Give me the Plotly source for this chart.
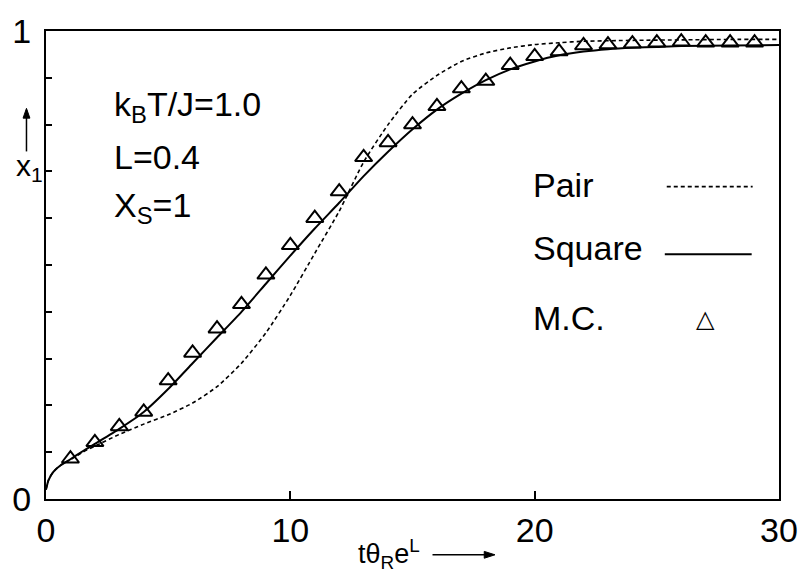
import plotly.graph_objects as go

# ---- data ----
square_x = [0, 0.1, 0.3, 0.6, 1, 1.5, 2, 3, 4, 5, 6, 7, 8, 9, 10, 11, 12, 13, 14, 15,
            16, 17, 18, 19, 20, 21, 22, 23, 24, 25, 26, 28, 30]
square_y = [0.02, 0.04, 0.058, 0.072, 0.085, 0.102, 0.118, 0.15, 0.186, 0.235, 0.29,
            0.345, 0.40, 0.46, 0.52, 0.578, 0.633, 0.69, 0.742, 0.79, 0.832, 0.866,
            0.895, 0.918, 0.935, 0.948, 0.956, 0.961, 0.964, 0.966, 0.968, 0.969, 0.97]

pair_x = [0, 0.1, 0.3, 0.6, 1, 1.5, 2, 3, 4, 5, 6, 7, 8, 9, 10, 11, 12, 13, 14, 15,
          16, 17, 18, 19, 20, 21, 22, 24, 26, 28, 30]
pair_y = [0.02, 0.04, 0.058, 0.072, 0.084, 0.1, 0.113, 0.138, 0.16, 0.18, 0.205, 0.24,
          0.29, 0.355, 0.435, 0.525, 0.615, 0.72, 0.80, 0.865, 0.905, 0.935, 0.953,
          0.964, 0.971, 0.975, 0.978, 0.98, 0.981, 0.982, 0.982]

mc_x = list(range(1, 30))
mc_y = [0.086, 0.121, 0.155, 0.186, 0.253, 0.312, 0.364, 0.416, 0.479, 0.542, 0.600,
        0.657, 0.730, 0.762, 0.800, 0.839, 0.877, 0.893, 0.927, 0.946, 0.956, 0.969,
        0.971, 0.973, 0.975, 0.977, 0.975, 0.975, 0.975]

x_tickvals = [0, 10, 20, 30]
x_ticktext = ["0", "10", "20", "30"]
y_tickvals = [0, 1]
y_ticktext = ["0", "1"]
y_minor_step = 0.1

FONT = "Liberation Sans, Arial, sans-serif"
W, H = 810, 574
L, R, T, B = 36, 23, 21, 75
PW, PH = W - L - R, H - T - B


def px(xp):
    return (xp - L) / PW


def py(yp):
    return (H - B - yp) / PH


fig = go.Figure()
fig.add_trace(go.Scatter(x=pair_x, y=pair_y, mode="lines",
                         line=dict(color="black", width=1.6, dash="4px,3px", shape="spline", smoothing=0.6),
                         showlegend=False))
fig.add_trace(go.Scatter(x=square_x, y=square_y, mode="lines",
                         line=dict(color="black", width=2, shape="spline", smoothing=0.6),
                         showlegend=False))
fig.add_trace(go.Scatter(x=mc_x, y=mc_y, mode="markers",
                         marker=dict(symbol="triangle-up-open", size=15, color="black",
                                     line=dict(color="black", width=2)),
                         showlegend=False))

ann = []
txt = dict(xref="paper", yref="paper", showarrow=False, xanchor="left", yanchor="middle",
           font=dict(family=FONT, size=34, color="black"))
ann.append(dict(text="k<sub>B</sub>T/J=1.0", x=px(104), y=py(98), **txt))
ann.append(dict(text="L=0.4", x=px(104), y=py(150), **txt))
ann.append(dict(text="X<sub>S</sub>=1", x=px(104), y=py(201), **txt))
ann.append(dict(text="Pair", x=px(533), y=py(178), **txt))
ann.append(dict(text="Square", x=px(533), y=py(243), **txt))
ann.append(dict(text="M.C.", x=px(533), y=py(314), **txt))
# axis titles
ann.append(dict(text="x<sub>1</sub>", x=px(19), y=py(160), xref="paper", yref="paper",
                showarrow=False, xanchor="center", yanchor="middle",
                font=dict(family=FONT, size=30, color="black")))
ann.append(dict(text="tθ<sub>R</sub>e<sup>L</sup>", x=px(387), y=py(555), xref="paper", yref="paper",
                showarrow=False, xanchor="center", yanchor="middle",
                font=dict(family=FONT, size=27, color="black")))

shapes = [
    dict(type="line", xref="paper", yref="paper", x0=px(672), x1=px(760), y0=py(180), y1=py(180),
         line=dict(color="black", width=1.6, dash="4px,3px")),
    dict(type="line", xref="paper", yref="paper", x0=px(670), x1=px(759), y0=py(249), y1=py(249),
         line=dict(color="black", width=2)),
    # axis-title arrows
    dict(type="line", xref="paper", yref="paper", x0=px(16), x1=px(16), y0=py(144), y1=py(102),
         line=dict(color="black", width=1.5)),
    dict(type="path", xref="paper", yref="paper",
         path=f"M {px(12.5)} {py(110)} L {px(16)} {py(100)} L {px(19.5)} {py(110)} Z",
         fillcolor="black", line=dict(color="black", width=1)),
    dict(type="line", xref="paper", yref="paper", x0=px(432), x1=px(492), y0=py(556), y1=py(556),
         line=dict(color="black", width=1.5)),
    dict(type="path", xref="paper", yref="paper",
         path=f"M {px(485)} {py(552.5)} L {px(496)} {py(556)} L {px(485)} {py(559.5)} Z",
         fillcolor="black", line=dict(color="black", width=1)),
]
ann.append(dict(text="△", x=px(712), y=py(315), xref="paper", yref="paper", showarrow=False,
                xanchor="center", yanchor="middle",
                font=dict(family="DejaVu Sans", size=24, color="black")))

fig.update_layout(
    width=W, height=H,
    margin=dict(l=L, r=R, t=T, b=B, pad=0),
    paper_bgcolor="white", plot_bgcolor="white",
    annotations=ann, shapes=shapes,
    xaxis=dict(range=[0, 30], tickvals=x_tickvals, ticktext=x_ticktext, ticks="inside",
               ticklen=8, tickwidth=1.5, tickcolor="black", showline=True, mirror=True,
               linecolor="black", linewidth=2, showgrid=False, zeroline=False,
               tickfont=dict(family=FONT, size=34, color="black")),
    yaxis=dict(range=[0, 1], tickvals=y_tickvals, ticktext=y_ticktext, ticks="inside",
               ticklen=6, tickwidth=1.5, tickcolor="black", showline=True, mirror=True,
               linecolor="black", linewidth=2, showgrid=False, zeroline=False,
               ticklabelstandoff=6,
               minor=dict(dtick=y_minor_step, tick0=0, ticks="inside", ticklen=6,
                          tickwidth=1.5, tickcolor="black", showgrid=False),
               tickfont=dict(family=FONT, size=34, color="black")),
)

fig.write_html("out.html")
